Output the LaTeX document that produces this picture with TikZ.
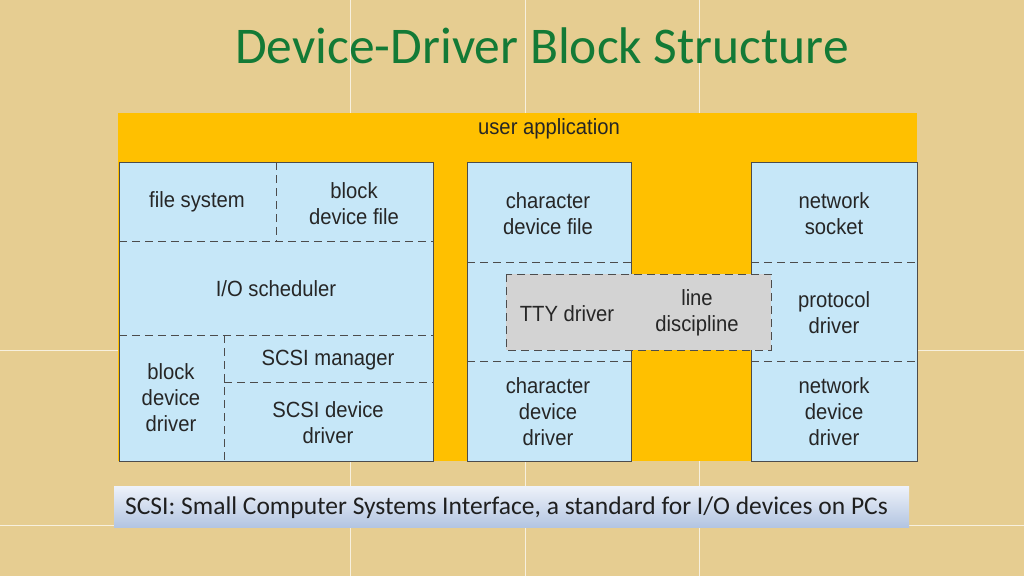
\documentclass[tikz,border=0pt]{standalone}
\usepackage{fontspec}
\setmainfont{Liberation Sans}[FakeStretch=0.92]
\newfontfamily\calib{Carlito}
\definecolor{parch}{HTML}{E6CD91}
\definecolor{gold}{HTML}{FFC000}
\definecolor{boxblue}{HTML}{C6E7F8}
\definecolor{ttygray}{HTML}{D3D3D3}
\definecolor{titlegreen}{HTML}{137A36}
\definecolor{capTop}{HTML}{EEF2FA}
\definecolor{capBot}{HTML}{B3C5E1}
\begin{document}
\begin{tikzpicture}[x=1pt,y=-1pt,
  lbl/.style={font=\fontsize{22}{26}\selectfont, align=center, text=black!85, inner sep=0pt},
  dline/.style={dash pattern=on 8pt off 5pt, line width=0.9pt, draw=black!70},
  colbox/.style={fill=boxblue, draw=black!70, line width=1pt},
  seam/.style={draw=white, opacity=0.7, line width=0.8pt}]
\useasboundingbox (0,0) rectangle (1024,576);
% background
\fill[parch] (0,0) rectangle (1024,576);
\draw[seam] (350,0) -- (350,576);
\draw[seam] (525,0) -- (525,576);
\draw[seam] (699,0) -- (699,576);
\draw[seam] (0,350) -- (1024,350);
\draw[seam] (0,525) -- (1024,525);

% title
\node[font=\calib\fontsize{51.5}{60}\selectfont, text=titlegreen, inner sep=0pt] (title) at (542,46) {Device-Driver Block Structure};

% yellow backdrop
\fill[gold] (118,113) rectangle (917,461);
\node[lbl] (userapp) at (549,129) {user application};

% left column
\draw[colbox] (119,162) rectangle (433,461);
\draw[dline] (276,162) -- (276,241);
\draw[dline] (119,241) -- (433,241);
\draw[dline] (119,335) -- (433,335);
\draw[dline] (224,335) -- (224,461);
\draw[dline] (224,382) -- (433,382);
\node[lbl] (fs) at (197,202) {file system};
\node[lbl] (bdf) at (354,204) {block\\device file};
\node[lbl] (ios) at (276,289) {I/O scheduler};
\node[lbl] (scsim) at (328,360) {SCSI manager};
\node[lbl] (bdd) at (171,398) {block\\device\\driver};
\node[lbl] (scsid) at (328,423) {SCSI device\\driver};

% middle column
\draw[colbox] (467,162) rectangle (631,461);
\draw[dline] (467,262) -- (631,262);
\draw[dline] (467,361) -- (631,361);
\node[lbl] (cdf) at (548,214) {character\\device file};
\node[lbl] (cdd) at (548,412) {character\\device\\driver};

% right column
\draw[colbox] (751,162) rectangle (917,461);
\draw[dline] (751,262) -- (917,262);
\draw[dline] (751,361) -- (917,361);
\node[lbl] (ns) at (834,214) {network\\socket};
\node[lbl] (pd) at (834,313) {protocol\\driver};
\node[lbl] (ndd) at (834,412) {network\\device\\driver};

% TTY box
\fill[ttygray] (506,274) rectangle (771,350);
\draw[dline] (506,274) rectangle (771,350);
\node[lbl] (tty) at (567,314) {TTY driver};
\node[lbl] (ld) at (697,313) {line\\discipline};

% caption
\shade[top color=capTop, bottom color=capBot] (114,486) rectangle (909,527);
\node[font=\calib\fontsize{25.5}{28}\selectfont, text=black!88, anchor=west, inner sep=0pt] (cap) at (125,507.5) {SCSI: Small Computer Systems Interface, a standard for I/O devices on PCs};
\end{tikzpicture}
\end{document}
